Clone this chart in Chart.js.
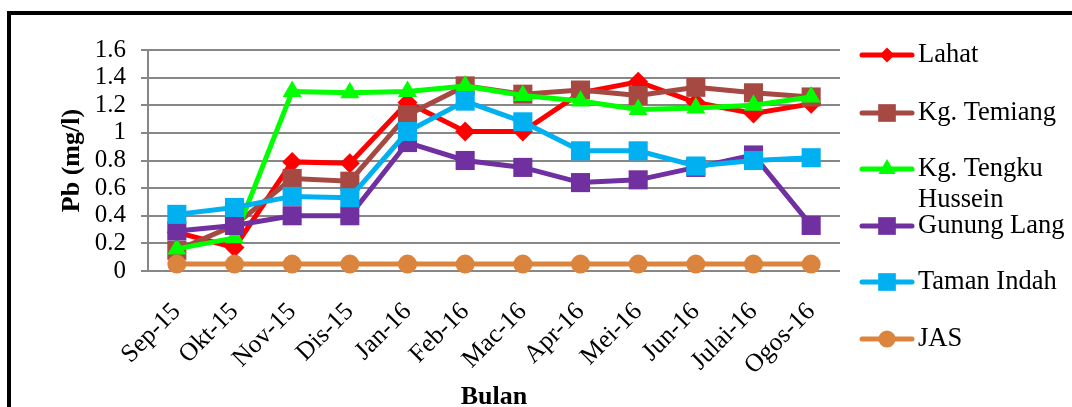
<!DOCTYPE html>
<html>
<head>
<meta charset="utf-8">
<script src="https://cdn.jsdelivr.net/npm/chart.js@4/dist/chart.umd.min.js"></script>
<style>
  html, body { margin: 0; padding: 0; background: #fff; overflow: hidden; width: 1072px; height: 407px; }
  #frame { position: absolute; left: 7px; top: 11px; width: 1200px; height: 600px;
           border-left: 4px solid #000; border-top: 4px solid #000; box-sizing: border-box; }
  #wrap { position: absolute; left: 0; top: 0; width: 1072px; height: 440px; }
</style>
</head>
<body>
<div id="frame"></div>
<div id="wrap"><canvas id="chart" width="1072" height="440"></canvas></div>
<script>
// Monthly lead (Pb) concentration, mg/l, per sampling station
const months = ['Sep-15', 'Okt-15', 'Nov-15', 'Dis-15', 'Jan-16', 'Feb-16',
                'Mac-16', 'Apr-16', 'Mei-16', 'Jun-16', 'Julai-16', 'Ogos-16'];

const lahat        = [0.28, 0.17, 0.79, 0.78, 1.22, 1.01, 1.01, 1.29, 1.37, 1.22, 1.14, 1.21];
const kgTemiang    = [0.15, 0.33, 0.67, 0.65, 1.13, 1.34, 1.28, 1.31, 1.27, 1.33, 1.29, 1.26];
const kgTengku     = [0.16, 0.24, 1.30, 1.29, 1.30, 1.34, 1.27, 1.23, 1.17, 1.18, 1.20, 1.26];
const gunungLang   = [0.29, 0.33, 0.40, 0.40, 0.93, 0.80, 0.75, 0.64, 0.66, 0.75, 0.84, 0.33];
const tamanIndah   = [0.41, 0.46, 0.54, 0.53, 1.01, 1.23, 1.08, 0.87, 0.87, 0.76, 0.80, 0.82];
const jas          = [0.05, 0.05, 0.05, 0.05, 0.05, 0.05, 0.05, 0.05, 0.05, 0.05, 0.05, 0.05];

const yTickLabels = ['0', '0.2', '0.4', '0.6', '0.8', '1', '1.2', '1.4', '1.6'];

const SERIF = "'Liberation Serif', 'Times New Roman', serif";

const series = [
  { label: ['Lahat'],              data: lahat,      color: '#FF0000', style: 'rectRot',  radius: 10 },
  { label: ['Kg. Temiang'],        data: kgTemiang,  color: '#A64943', style: 'rect',     radius: 13.5 },
  { label: ['Kg. Tengku', 'Hussein'], data: kgTengku, color: '#00FF00', style: 'triangle', radius: 11 },
  { label: ['Gunung Lang'],        data: gunungLang, color: '#7030A0', style: 'rect',     radius: 13.5 },
  { label: ['Taman Indah'],        data: tamanIndah, color: '#00B0F0', style: 'rect',     radius: 13.5 },
  { label: ['JAS'],                data: jas,        color: '#DB843D', style: 'circle',   radius: 9.5 }
];

// Legend rows on the right: y centre of each entry
const legendRows = [55, 113, 169, 226, 282, 339];

const sideLegend = {
  id: 'sideLegend',
  afterDraw(chart) {
    const ctx = chart.ctx;
    ctx.save();
    series.forEach((s, i) => {
      const y = legendRows[i];
      ctx.strokeStyle = s.color;
      ctx.lineWidth = 5;
      ctx.lineCap = 'round';
      ctx.beginPath();
      ctx.moveTo(862, y);
      ctx.lineTo(912, y);
      ctx.stroke();
      ctx.fillStyle = s.color;
      const r = s.style === 'rectRot' ? 7.5 : (s.style === 'rect' ? 12.5 : s.radius * 0.9);
      Chart.helpers.drawPoint(ctx, { pointStyle: s.style, radius: r, rotation: 0, borderWidth: 0 }, 887, y);
      ctx.fillStyle = '#000';
      ctx.font = '26.5px ' + SERIF;
      ctx.textAlign = 'left';
      ctx.textBaseline = 'middle';
      s.label.forEach((line, k) => ctx.fillText(line, 918, y + k * 31));
    });
    ctx.restore();
  }
};

new Chart(document.getElementById('chart'), {
  type: 'line',
  data: {
    labels: months,
    datasets: series.map((s, i) => ({
      label: s.label.join(' '),
      data: s.data,
      borderColor: s.color,
      backgroundColor: s.color,
      borderWidth: 5,
      tension: 0,
      pointStyle: s.style,
      pointRadius: s.radius,
      pointBackgroundColor: s.color,
      pointBorderWidth: 0,
      pointHoverRadius: s.radius,
      clip: false,
      order: series.length - i
    }))
  },
  options: {
    responsive: false,
    animation: false,
    devicePixelRatio: 1,
    layout: { padding: { left: 0, top: 50, right: 232, bottom: 0 } },
    plugins: { legend: { display: false }, tooltip: { enabled: false } },
    scales: {
      x: {
        offset: true,
        grid: { display: false },
        border: { display: false },
        ticks: {
          autoSkip: false, maxRotation: 45, minRotation: 45, padding: 18,
          color: '#000', font: { family: SERIF, size: 25.5 }
        },
        title: {
          display: true, text: 'Bulan', color: '#000',
          font: { family: SERIF, size: 26, weight: 'bold' },
          padding: { top: 0, bottom: 27 }
        },
        afterFit(scale) { scale.height = 169; }
      },
      y: {
        min: 0, max: 1.6,
        grid: { color: '#878787', lineWidth: 2, tickLength: 7, drawTicks: true },
        border: { display: true, color: '#878787', width: 2 },
        ticks: {
          stepSize: 0.2, autoSkip: false, padding: 15, color: '#000',
          font: { family: SERIF, size: 25 },
          callback: (v, idx) => yTickLabels[idx]
        },
        title: {
          display: true, text: 'Pb (mg/l)', color: '#000',
          font: { family: SERIF, size: 26, weight: 'bold' },
          padding: { top: 57, bottom: 0 }
        },
        afterFit(scale) { scale.width = 148; }
      }
    }
  },
  plugins: [sideLegend]
});
</script>
</body>
</html>
